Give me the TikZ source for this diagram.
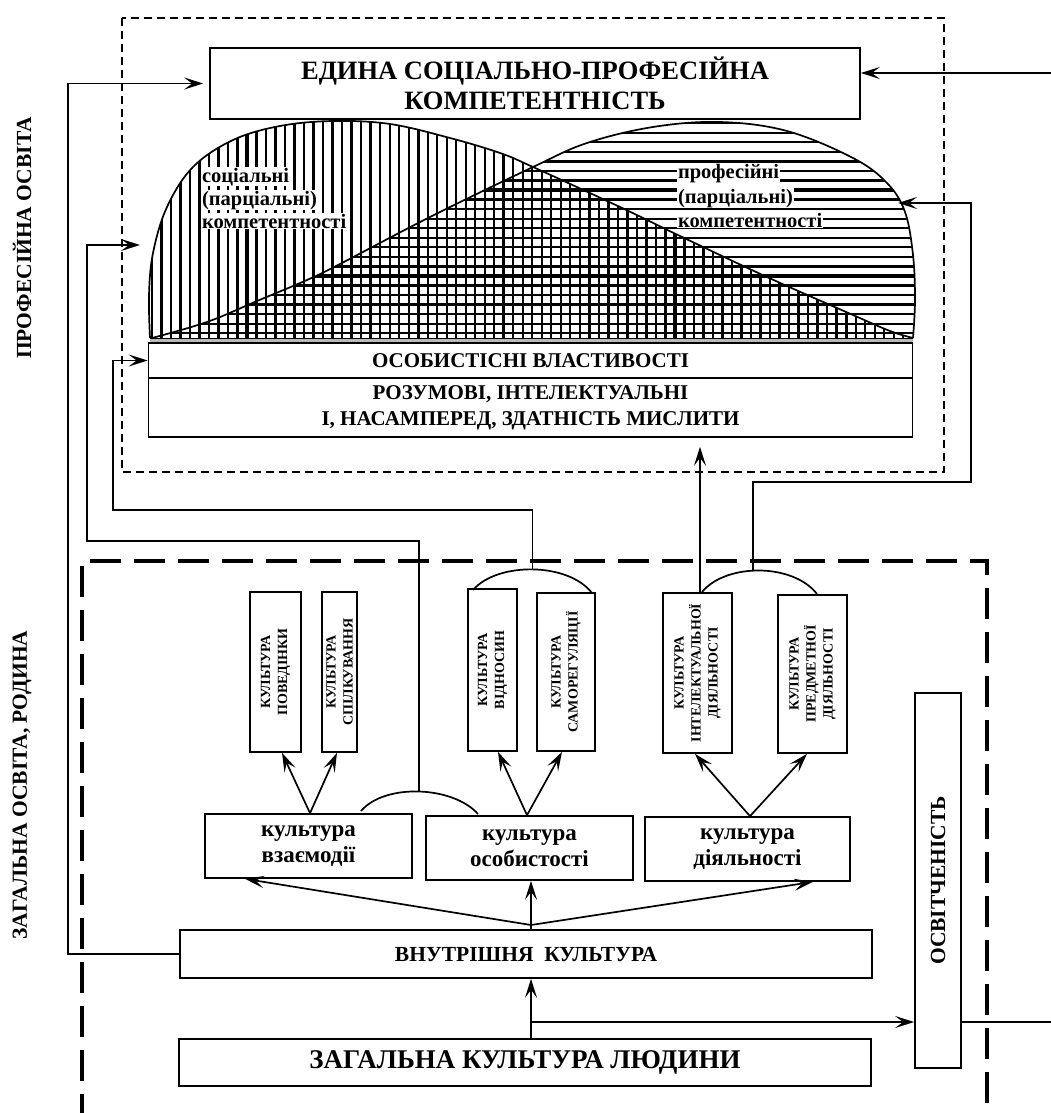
\documentclass[tikz,border=0pt]{standalone}
\usepackage{fontspec}
\setmainfont{Liberation Serif}
\usetikzlibrary{arrows.meta,calc}
\newcommand\fntTitle{\fontsize{26.5}{30}\selectfont\bfseries}
\newcommand\fntMid{\fontsize{21}{26}\selectfont\bfseries}
\newcommand\fntInner{\fontsize{21.5}{26}\selectfont\bfseries}
\newcommand\fntBig{\fontsize{27}{30}\selectfont\bfseries}
\newcommand\fntLow{\fontsize{23}{26.5}\selectfont\bfseries}
\newcommand\fntHump{\fontsize{20.5}{23}\selectfont\bfseries}
\newcommand\fntSmall{\fontsize{14}{17}\selectfont\bfseries}
\newcommand\fntSide{\fontsize{21.5}{24}\selectfont\bfseries}
\begin{document}
\begin{tikzpicture}[x=1pt,y=-1pt,
  bx/.style={draw, line width=1.7pt, inner sep=0pt, align=center},
  ln/.style={line width=1.7pt},
  arr/.style={ln, -{Stealth[length=19pt,width=12pt,inset=8pt]}},
  hlabel/.style={font=\fntHump, fill=white, inner sep=0.8pt, anchor=base west},
  rlabel/.style={font=\fntSmall, rotate=90, align=center, inner sep=0pt},
  hatch/.style={line width=2.3pt},
  hatchbold/.style={line width=3.1pt}]
\useasboundingbox (0,0) rectangle (1051,1113);

% frames of the two levels of education
\draw[line width=1.9pt, dash pattern=on 8pt off 5pt] (122,18) rectangle (944,472);
\draw[line width=3.8pt, dash pattern=on 31pt off 13pt] (82,1125) -- (82,561) -- (987,561) -- (987,1125);

% side captions
\node[font=\fntSide, rotate=90] (profcap) at (22,238) {ПРОФЕСІЙНА ОСВІТА};
\node[font=\fntSide, rotate=90] (gencap) at (22,785) {ЗАГАЛЬНА ОСВІТА, РОДИНА};

% outlines of the two competence areas
\def\socialcurve{plot[smooth, tension=0.6] coordinates {(150,338) (149,295) (153,253) (167,207) (193,167) (233,140) (280,126) (333,121) (390,124) (450,138) (500,153) (533,167) (620,207) (680,236) (767,277) (853,315) (890,331) (913,338)}}
\def\profcurve{plot[smooth, tension=0.6] coordinates {(152,338) (207,322) (257,301) (307,280) (340,264) (430,217) (533,167) (587,143) (653,127) (720,122) (787,131) (853,158) (887,183) (905,212) (913,255) (915,300) (913,338)}}

\fill[white] \socialcurve -- cycle;
\fill[white] \profcurve -- cycle;
\begin{scope}
  \clip \socialcurve -- cycle;
  \foreach \k in {-11,...,71}{
    \pgfmathsetmacro\xx{247+9.51*\k}
    \pgfmathtruncatemacro\bold{mod(abs(\k),9)==0 ? 1 : 0}
    \ifnum\bold=1 \draw[hatchbold] (\xx,100) -- (\xx,345);
    \else \draw[hatch] (\xx,100) -- (\xx,345); \fi
  }
\end{scope}
\begin{scope}
  \clip \profcurve -- cycle;
  \foreach \k in {-8,...,16}{
    \pgfmathsetmacro\yy{190+9.55*\k}
    \pgfmathtruncatemacro\bold{mod(abs(\k),9)==0 ? 1 : 0}
    \ifnum\bold=1 \draw[hatchbold] (140,\yy) -- (920,\yy);
    \else \draw[hatch] (140,\yy) -- (920,\yy); \fi
  }
\end{scope}
\draw[line width=1.7pt] \socialcurve;
\draw[line width=1.7pt] \profcurve;
\fill[gray!55] (150,338) rectangle (913,343);
\draw[line width=1pt] (150,338) -- (913,338);

\node[hlabel] (soc1) at (201,182) {соціальні};
\node[hlabel] (soc2) at (201,205) {(парціальні)};
\node[hlabel] (soc3) at (201,228) {компетентності};
\node[hlabel] (pro1) at (677,178) {професійні};
\node[hlabel] (pro2) at (677,203) {(парціальні)};
\node[hlabel] (pro3) at (677,227) {компетентності};

% boxes of the upper level
\node[bx, font=\fntTitle, minimum width=650pt, minimum height=71pt] (title) at (535,83.5)
  {ЕДИНА СОЦІАЛЬНО-ПРОФЕСІЙНА\\КОМПЕТЕНТНІСТЬ};
\node[bx, font=\fntMid, minimum width=764pt, minimum height=35pt] (osob) at (530.5,360.5)
  {ОСОБИСТІСНІ ВЛАСТИВОСТІ};
\node[bx, font=\fntMid, minimum width=764pt, minimum height=59pt] (rozum) at (530.5,407.5)
  {РОЗУМОВІ, ІНТЕЛЕКТУАЛЬНІ\\І, НАСАМПЕРЕД, ЗДАТНІСТЬ МИСЛИТИ};

% narrow boxes of the cultures
\node[bx, minimum width=51pt, minimum height=160pt] (pov) at (275.5,672) {};
\node[bx, minimum width=35pt, minimum height=160pt] (spil) at (339.5,672) {};
\node[bx, minimum width=49pt, minimum height=162pt] (vid) at (492.5,670) {};
\node[bx, minimum width=58pt, minimum height=158pt] (sam) at (566,672) {};
\node[bx, minimum width=69pt, minimum height=160pt] (intl) at (697.5,673) {};
\node[bx, minimum width=69pt, minimum height=158pt] (pred) at (812.5,674) {};
\node[rlabel] (povT) at (pov.center) {КУЛЬТУРА\\ПОВЕДІНКИ};
\node[rlabel] (spilT) at (spil.center) {КУЛЬТУРА\\СПІЛКУВАННЯ};
\node[rlabel] (vidT) at (vid.center) {КУЛЬТУРА\\ВІДНОСИН};
\node[rlabel] (samT) at (sam.center) {КУЛЬТУРА\\САМОРЕГУЛЯЦІЇ};
\node[rlabel] (intlT) at (intl.center) {КУЛЬТУРА\\ІНТЕЛЕКТУАЛЬНОЇ\\ДІЯЛЬНОСТІ};
\node[rlabel] (predT) at (pred.center) {КУЛЬТУРА\\ПРЕДМЕТНОЇ\\ДІЯЛЬНОСТІ};

% boxes of the lower level
\node[bx, font=\fntLow, minimum width=207pt, minimum height=64pt] (vz) at (308.5,846) {культура\\взаємодії};
\node[bx, font=\fntLow, minimum width=207pt, minimum height=64pt] (os) at (529.5,848) {культура\\особистості};
\node[bx, font=\fntLow, minimum width=205pt, minimum height=64pt] (di) at (747.5,849) {культура\\діяльності};
\node[bx, font=\fntInner, minimum width=692pt, minimum height=48pt] (vn) at (526,954) {ВНУТРІШНЯ~ КУЛЬТУРА};
\node[bx, font=\fntBig, minimum width=692pt, minimum height=47pt] (zag) at (525,1062.5) {ЗАГАЛЬНА КУЛЬТУРА ЛЮДИНИ};
\node[bx, minimum width=46pt, minimum height=375pt] (osv) at (938,880.5) {};
\node[font=\fntSide, rotate=90] (osvT) at (osv.center) {ОСВІТЧЕНІСТЬ};

% arcs joining pairs of cultures
\coordinate (a1s) at (361,811); \coordinate (a1e) at (478,814);
\coordinate (a2s) at (473,590); \coordinate (a2e) at (592,593);
\coordinate (a3s) at (702,592); \coordinate (a3e) at (817,594);
\draw[ln] (a1s) .. controls +(24,-28) and +(-25,-28) .. (a1e);
\draw[ln] (a2s) .. controls +(24,-28) and +(-24,-31) .. (a2e);
\draw[ln] (a3s) .. controls +(24,-29) and +(-24,-31) .. (a3e);
\coordinate (a1) at (419,791);
\coordinate (a2) at (532.5,569.5);
\coordinate (a3) at (753,571);

% feedback lines to the upper level
\coordinate (lx) at (68,0);
\coordinate (rin) at (1051,73);
\coordinate (t2) at (140,245);
\coordinate (r2) at (87,541);
\coordinate (r3) at (113,510);
\coordinate (r4) at (971,482);
\coordinate (t4) at (898,203);
\draw[arr] (vn.west) -- (vn.west -| lx) -- (lx |- title.west) -- ([xshift=-6pt]title.west);
\draw[arr] (rin) -- (title.east |- rin);
\draw[arr] (a1) -- (a1 |- r2) -- (r2) -- (r2 |- t2) -- (t2);
\draw[arr] (a2) -- (a2 |- r3) -- (r3) -- (r3 |- osob.west) -- (osob.west);
\draw[arr] (a3) -- (a3 |- r4) -- (r4) -- (r4 |- t4) -- (t4);
\draw[arr, shorten >=9pt] ([xshift=2.5pt]intl.north) -- ([xshift=2.5pt]intl.north |- rozum.south);

% arrows inside the general culture
\draw[arr] ([xshift=1.5pt]vz.north) -- ([xshift=6.5pt]pov.south);
\draw[arr] ([xshift=1.5pt]vz.north) -- ([xshift=-2.5pt]spil.south);
\draw[arr] ([xshift=-2.5pt]os.north) -- ([xshift=5.5pt]vid.south);
\draw[arr] ([xshift=-2.5pt]os.north) -- ([xshift=-4pt]sam.south);
\draw[arr] ([xshift=2.5pt]di.north) -- ([xshift=-2.5pt]intl.south);
\draw[arr] ([xshift=2.5pt]di.north) -- ([xshift=-5.5pt]pred.south);

\coordinate (fan) at (531,925);
\draw[arr] (fan) -- ([xshift=-63.5pt]vz.south);
\draw[arr] (fan) -- ([xshift=1.5pt]os.south);
\draw[arr] (fan) -- ([xshift=65.5pt]di.south);
\draw[ln] (fan) -- (fan |- vn.north);

\coordinate (br) at (531,1022);
\coordinate (rexit) at (1051,1022);
\draw[arr] ([xshift=6pt]zag.north) -- ([xshift=5pt]vn.south);
\draw[arr] (br) -- (osv.west |- br);
\draw[ln] (osv.east |- br) -- (rexit);
\end{tikzpicture}
\end{document}
